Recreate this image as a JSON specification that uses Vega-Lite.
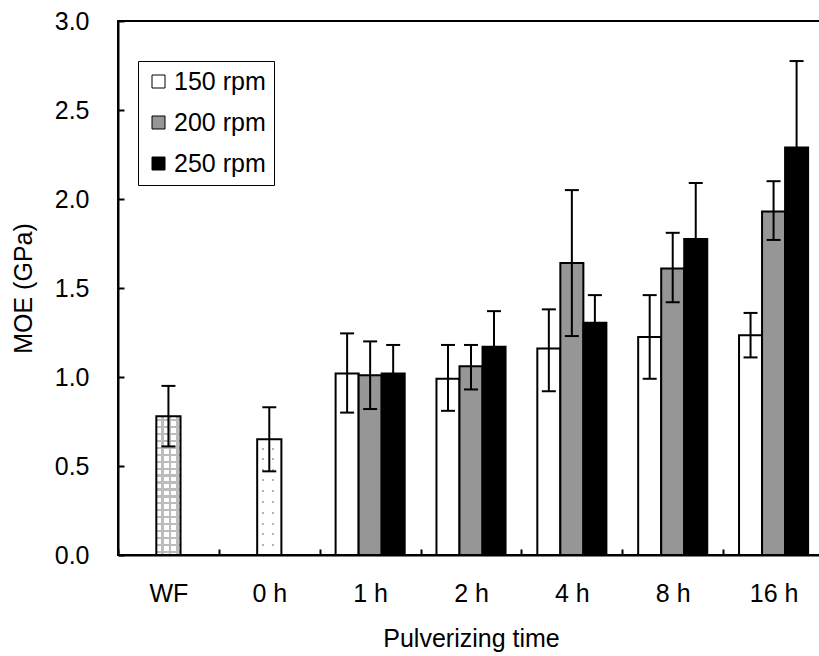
{
  "$schema": "https://vega.github.io/schema/vega-lite/v6.json",
  "autosize": {"type": "none"},
  "padding": {"left": 118, "top": 21, "right": 0, "bottom": 101},
  "width": 706,
  "height": 534,
  "background": "white",
  "config": {
    "font": "Liberation Sans",
    "view": {"stroke": "black", "strokeWidth": 2},
    "axis": {"labelColor": "black", "titleColor": "black", "domainColor": "black", "tickColor": "black", "labelFont": "Liberation Sans", "titleFont": "Liberation Sans", "labelFontWeight": "normal", "titleFontWeight": "normal"},
    "legend": {"strokeColor": "black", "fillColor": "white", "padding": 8, "symbolType": "square", "symbolSize": 169, "symbolStrokeColor": "black", "symbolStrokeWidth": 1, "labelFontSize": 25, "labelFont": "Liberation Sans", "labelColor": "black", "labelOffset": 3, "rowPadding": 15}
  },
  "data": {
    "values": [
      {"time": "WF", "series": "none", "mean": 0.78, "lower": 0.61, "upper": 0.95},
      {"time": "0 h", "series": "none", "mean": 0.65, "lower": 0.47, "upper": 0.83},
      {"time": "1 h", "series": "150 rpm", "mean": 1.02, "lower": 0.80, "upper": 1.245},
      {"time": "1 h", "series": "200 rpm", "mean": 1.01, "lower": 0.82, "upper": 1.20},
      {"time": "1 h", "series": "250 rpm", "mean": 1.02, "lower": 0.86, "upper": 1.18},
      {"time": "2 h", "series": "150 rpm", "mean": 0.99, "lower": 0.81, "upper": 1.18},
      {"time": "2 h", "series": "200 rpm", "mean": 1.06, "lower": 0.93, "upper": 1.18},
      {"time": "2 h", "series": "250 rpm", "mean": 1.17, "lower": 0.97, "upper": 1.37},
      {"time": "4 h", "series": "150 rpm", "mean": 1.16, "lower": 0.92, "upper": 1.38},
      {"time": "4 h", "series": "200 rpm", "mean": 1.64, "lower": 1.23, "upper": 2.05},
      {"time": "4 h", "series": "250 rpm", "mean": 1.305, "lower": 1.15, "upper": 1.46},
      {"time": "8 h", "series": "150 rpm", "mean": 1.225, "lower": 0.99, "upper": 1.46},
      {"time": "8 h", "series": "200 rpm", "mean": 1.61, "lower": 1.42, "upper": 1.81},
      {"time": "8 h", "series": "250 rpm", "mean": 1.775, "lower": 1.46, "upper": 2.09},
      {"time": "16 h", "series": "150 rpm", "mean": 1.235, "lower": 1.11, "upper": 1.36},
      {"time": "16 h", "series": "200 rpm", "mean": 1.93, "lower": 1.77, "upper": 2.10},
      {"time": "16 h", "series": "250 rpm", "mean": 2.29, "lower": 1.81, "upper": 2.775}
    ]
  },
  "encoding": {
    "x": {
      "field": "time", "type": "nominal",
      "sort": ["WF", "0 h", "1 h", "2 h", "4 h", "8 h", "16 h"],
      "scale": {"domain": ["WF", "0 h", "1 h", "2 h", "4 h", "8 h", "16 h"], "paddingInner": 0, "paddingOuter": 0},
      "title": "Pulverizing time",
      "axis": {"labelAngle": 0, "labelFontSize": 25, "titleFontSize": 25, "domainWidth": 2, "tickWidth": 2, "tickSize": -6, "tickBand": "extent", "labelPadding": 32, "titlePadding": 20}
    }
  },
  "layer": [
    {
      "transform": [{"filter": "datum.time === 'WF'"}],
      "mark": {"type": "bar", "width": {"band": 0.25}, "strokeWidth": 0,
        "fill": {"gradient": "linear", "x1": 0, "y1": 0, "x2": 1, "y2": 0, "stops": [
          {"offset": 0, "color": "white"}, {"offset": 0.22, "color": "white"}, {"offset": 0.22, "color": "#bcbcbc"}, {"offset": 0.32, "color": "#bcbcbc"}, {"offset": 0.32, "color": "white"},
          {"offset": 0.52, "color": "white"}, {"offset": 0.52, "color": "#bcbcbc"}, {"offset": 0.62, "color": "#bcbcbc"}, {"offset": 0.62, "color": "white"},
          {"offset": 0.80, "color": "white"}, {"offset": 0.80, "color": "#bcbcbc"}, {"offset": 0.90, "color": "#bcbcbc"}, {"offset": 0.90, "color": "white"}, {"offset": 1, "color": "white"}
        ]}},
      "encoding": {"y": {"field": "mean", "type": "quantitative", "title": "MOE (GPa)"}}
    },
    {
      "transform": [{"filter": "datum.time === 'WF'"}],
      "mark": {"type": "bar", "width": {"band": 0.25}, "strokeWidth": 0,
        "fill": {"gradient": "linear", "x1": 0, "y1": 0, "x2": 0, "y2": 1, "stops": [
          {"offset": 0, "color": "rgba(188,188,188,0)"},
          {"offset": 0.02, "color": "rgba(188,188,188,0)"}, {"offset": 0.02, "color": "#bcbcbc"}, {"offset": 0.036, "color": "#bcbcbc"}, {"offset": 0.036, "color": "rgba(188,188,188,0)"},
          {"offset": 0.07, "color": "rgba(188,188,188,0)"}, {"offset": 0.07, "color": "#bcbcbc"}, {"offset": 0.086, "color": "#bcbcbc"}, {"offset": 0.086, "color": "rgba(188,188,188,0)"},
          {"offset": 0.12, "color": "rgba(188,188,188,0)"}, {"offset": 0.12, "color": "#bcbcbc"}, {"offset": 0.136, "color": "#bcbcbc"}, {"offset": 0.136, "color": "rgba(188,188,188,0)"},
          {"offset": 0.17, "color": "rgba(188,188,188,0)"}, {"offset": 0.17, "color": "#bcbcbc"}, {"offset": 0.186, "color": "#bcbcbc"}, {"offset": 0.186, "color": "rgba(188,188,188,0)"},
          {"offset": 0.22, "color": "rgba(188,188,188,0)"}, {"offset": 0.22, "color": "#bcbcbc"}, {"offset": 0.236, "color": "#bcbcbc"}, {"offset": 0.236, "color": "rgba(188,188,188,0)"},
          {"offset": 0.27, "color": "rgba(188,188,188,0)"}, {"offset": 0.27, "color": "#bcbcbc"}, {"offset": 0.286, "color": "#bcbcbc"}, {"offset": 0.286, "color": "rgba(188,188,188,0)"},
          {"offset": 0.32, "color": "rgba(188,188,188,0)"}, {"offset": 0.32, "color": "#bcbcbc"}, {"offset": 0.336, "color": "#bcbcbc"}, {"offset": 0.336, "color": "rgba(188,188,188,0)"},
          {"offset": 0.37, "color": "rgba(188,188,188,0)"}, {"offset": 0.37, "color": "#bcbcbc"}, {"offset": 0.386, "color": "#bcbcbc"}, {"offset": 0.386, "color": "rgba(188,188,188,0)"},
          {"offset": 0.42, "color": "rgba(188,188,188,0)"}, {"offset": 0.42, "color": "#bcbcbc"}, {"offset": 0.436, "color": "#bcbcbc"}, {"offset": 0.436, "color": "rgba(188,188,188,0)"},
          {"offset": 0.47, "color": "rgba(188,188,188,0)"}, {"offset": 0.47, "color": "#bcbcbc"}, {"offset": 0.486, "color": "#bcbcbc"}, {"offset": 0.486, "color": "rgba(188,188,188,0)"},
          {"offset": 0.52, "color": "rgba(188,188,188,0)"}, {"offset": 0.52, "color": "#bcbcbc"}, {"offset": 0.536, "color": "#bcbcbc"}, {"offset": 0.536, "color": "rgba(188,188,188,0)"},
          {"offset": 0.57, "color": "rgba(188,188,188,0)"}, {"offset": 0.57, "color": "#bcbcbc"}, {"offset": 0.586, "color": "#bcbcbc"}, {"offset": 0.586, "color": "rgba(188,188,188,0)"},
          {"offset": 0.62, "color": "rgba(188,188,188,0)"}, {"offset": 0.62, "color": "#bcbcbc"}, {"offset": 0.636, "color": "#bcbcbc"}, {"offset": 0.636, "color": "rgba(188,188,188,0)"},
          {"offset": 0.67, "color": "rgba(188,188,188,0)"}, {"offset": 0.67, "color": "#bcbcbc"}, {"offset": 0.686, "color": "#bcbcbc"}, {"offset": 0.686, "color": "rgba(188,188,188,0)"},
          {"offset": 0.72, "color": "rgba(188,188,188,0)"}, {"offset": 0.72, "color": "#bcbcbc"}, {"offset": 0.736, "color": "#bcbcbc"}, {"offset": 0.736, "color": "rgba(188,188,188,0)"},
          {"offset": 0.77, "color": "rgba(188,188,188,0)"}, {"offset": 0.77, "color": "#bcbcbc"}, {"offset": 0.786, "color": "#bcbcbc"}, {"offset": 0.786, "color": "rgba(188,188,188,0)"},
          {"offset": 0.82, "color": "rgba(188,188,188,0)"}, {"offset": 0.82, "color": "#bcbcbc"}, {"offset": 0.836, "color": "#bcbcbc"}, {"offset": 0.836, "color": "rgba(188,188,188,0)"},
          {"offset": 0.87, "color": "rgba(188,188,188,0)"}, {"offset": 0.87, "color": "#bcbcbc"}, {"offset": 0.886, "color": "#bcbcbc"}, {"offset": 0.886, "color": "rgba(188,188,188,0)"},
          {"offset": 0.92, "color": "rgba(188,188,188,0)"}, {"offset": 0.92, "color": "#bcbcbc"}, {"offset": 0.936, "color": "#bcbcbc"}, {"offset": 0.936, "color": "rgba(188,188,188,0)"},
          {"offset": 0.97, "color": "rgba(188,188,188,0)"}, {"offset": 0.97, "color": "#bcbcbc"}, {"offset": 0.986, "color": "#bcbcbc"}, {"offset": 0.986, "color": "rgba(188,188,188,0)"},
          {"offset": 1, "color": "rgba(188,188,188,0)"}
        ]}},
      "encoding": {"y": {"field": "mean", "type": "quantitative", "title": "MOE (GPa)"}}
    },
    {
      "transform": [{"filter": "datum.time === '0 h'"}],
      "mark": {"type": "bar", "width": {"band": 0.22}, "strokeWidth": 0,
        "fill": {"gradient": "linear", "x1": 0, "y1": 0, "x2": 1, "y2": 0, "stops": [
          {"offset": 0, "color": "white"}, {"offset": 0.17, "color": "white"}, {"offset": 0.17, "color": "#b4b4b4"}, {"offset": 0.26, "color": "#b4b4b4"}, {"offset": 0.26, "color": "white"},
          {"offset": 0.63, "color": "white"}, {"offset": 0.63, "color": "#b4b4b4"}, {"offset": 0.72, "color": "#b4b4b4"}, {"offset": 0.72, "color": "white"}, {"offset": 1, "color": "white"}
        ]}},
      "encoding": {"y": {"field": "mean", "type": "quantitative", "title": "MOE (GPa)"}}
    },
    {
      "transform": [{"filter": "datum.time === '0 h'"}],
      "mark": {"type": "bar", "width": {"band": 0.22}, "strokeWidth": 0,
        "fill": {"gradient": "linear", "x1": 0, "y1": 0, "x2": 0, "y2": 1, "stops": [
          {"offset": 0, "color": "white"},
          {"offset": 0.072, "color": "white"}, {"offset": 0.072, "color": "rgba(255,255,255,0)"}, {"offset": 0.089, "color": "rgba(255,255,255,0)"}, {"offset": 0.089, "color": "white"},
          {"offset": 0.164, "color": "white"}, {"offset": 0.164, "color": "rgba(255,255,255,0)"}, {"offset": 0.181, "color": "rgba(255,255,255,0)"}, {"offset": 0.181, "color": "white"},
          {"offset": 0.259, "color": "white"}, {"offset": 0.259, "color": "rgba(255,255,255,0)"}, {"offset": 0.276, "color": "rgba(255,255,255,0)"}, {"offset": 0.276, "color": "white"},
          {"offset": 0.347, "color": "white"}, {"offset": 0.347, "color": "rgba(255,255,255,0)"}, {"offset": 0.364, "color": "rgba(255,255,255,0)"}, {"offset": 0.364, "color": "white"},
          {"offset": 0.44, "color": "white"}, {"offset": 0.44, "color": "rgba(255,255,255,0)"}, {"offset": 0.457, "color": "rgba(255,255,255,0)"}, {"offset": 0.457, "color": "white"},
          {"offset": 0.534, "color": "white"}, {"offset": 0.534, "color": "rgba(255,255,255,0)"}, {"offset": 0.551, "color": "rgba(255,255,255,0)"}, {"offset": 0.551, "color": "white"},
          {"offset": 0.627, "color": "white"}, {"offset": 0.627, "color": "rgba(255,255,255,0)"}, {"offset": 0.644, "color": "rgba(255,255,255,0)"}, {"offset": 0.644, "color": "white"},
          {"offset": 0.722, "color": "white"}, {"offset": 0.722, "color": "rgba(255,255,255,0)"}, {"offset": 0.739, "color": "rgba(255,255,255,0)"}, {"offset": 0.739, "color": "white"},
          {"offset": 0.81, "color": "white"}, {"offset": 0.81, "color": "rgba(255,255,255,0)"}, {"offset": 0.827, "color": "rgba(255,255,255,0)"}, {"offset": 0.827, "color": "white"},
          {"offset": 0.905, "color": "white"}, {"offset": 0.905, "color": "rgba(255,255,255,0)"}, {"offset": 0.922, "color": "rgba(255,255,255,0)"}, {"offset": 0.922, "color": "white"},
          {"offset": 1, "color": "white"}
        ]}},
      "encoding": {"y": {"field": "mean", "type": "quantitative", "title": "MOE (GPa)"}}
    },
    {
      "transform": [{"filter": "datum.series === 'none'"}],
      "mark": {"type": "bar", "width": {"band": 0.24}, "fill": "transparent", "stroke": "black", "strokeWidth": 2},
      "encoding": {"y": {"field": "mean", "type": "quantitative", "title": "MOE (GPa)"}}
    },
    {
      "transform": [{"filter": "datum.series !== 'none'"}],
      "mark": {"type": "bar", "stroke": "black", "strokeWidth": 2},
      "encoding": {
        "xOffset": {"field": "series", "type": "nominal", "scale": {"domain": ["150 rpm", "200 rpm", "250 rpm"], "paddingInner": 0, "paddingOuter": 0.69}},
        "y": {
          "field": "mean", "type": "quantitative", "title": "MOE (GPa)",
          "scale": {"domain": [0, 3], "nice": false},
          "axis": {"values": [0, 0.5, 1, 1.5, 2, 2.5, 3], "format": ".1f", "grid": false, "labelFontSize": 25, "titleFontSize": 25, "domainWidth": 2, "tickWidth": 2, "tickSize": -6, "labelPadding": 35, "titlePadding": 18}
        },
        "color": {
          "field": "series", "type": "nominal",
          "scale": {"domain": ["150 rpm", "200 rpm", "250 rpm"], "range": ["white", "#969696", "black"]},
          "legend": {"title": null, "orient": "none", "legendX": 20, "legendY": 40}
        }
      }
    },
    {
      "transform": [{"filter": "datum.series === 'none'"}],
      "mark": {"type": "rule", "color": "black", "strokeWidth": 2},
      "encoding": {"y": {"field": "lower", "type": "quantitative", "title": "MOE (GPa)"}, "y2": {"field": "upper"}}
    },
    {
      "transform": [{"filter": "datum.series === 'none'"}],
      "mark": {"type": "tick", "color": "black", "size": 14, "thickness": 2, "opacity": 1},
      "encoding": {"y": {"field": "upper", "type": "quantitative", "title": "MOE (GPa)"}}
    },
    {
      "transform": [{"filter": "datum.series === 'none'"}],
      "mark": {"type": "tick", "color": "black", "size": 14, "thickness": 2, "opacity": 1},
      "encoding": {"y": {"field": "lower", "type": "quantitative", "title": "MOE (GPa)"}}
    },
    {
      "transform": [{"filter": "datum.series !== 'none'"}],
      "mark": {"type": "rule", "color": "black", "strokeWidth": 2},
      "encoding": {
        "xOffset": {"field": "series", "type": "nominal"},
        "y": {"field": "lower", "type": "quantitative", "title": "MOE (GPa)"}, "y2": {"field": "upper"}
      }
    },
    {
      "transform": [{"filter": "datum.series !== 'none'"}],
      "mark": {"type": "tick", "color": "black", "size": 14, "thickness": 2, "opacity": 1},
      "encoding": {
        "xOffset": {"field": "series", "type": "nominal"},
        "y": {"field": "upper", "type": "quantitative", "title": "MOE (GPa)"}
      }
    },
    {
      "transform": [{"filter": "datum.series !== 'none'"}],
      "mark": {"type": "tick", "color": "black", "size": 14, "thickness": 2, "opacity": 1},
      "encoding": {
        "xOffset": {"field": "series", "type": "nominal"},
        "y": {"field": "lower", "type": "quantitative", "title": "MOE (GPa)"}
      }
    }
  ]
}
